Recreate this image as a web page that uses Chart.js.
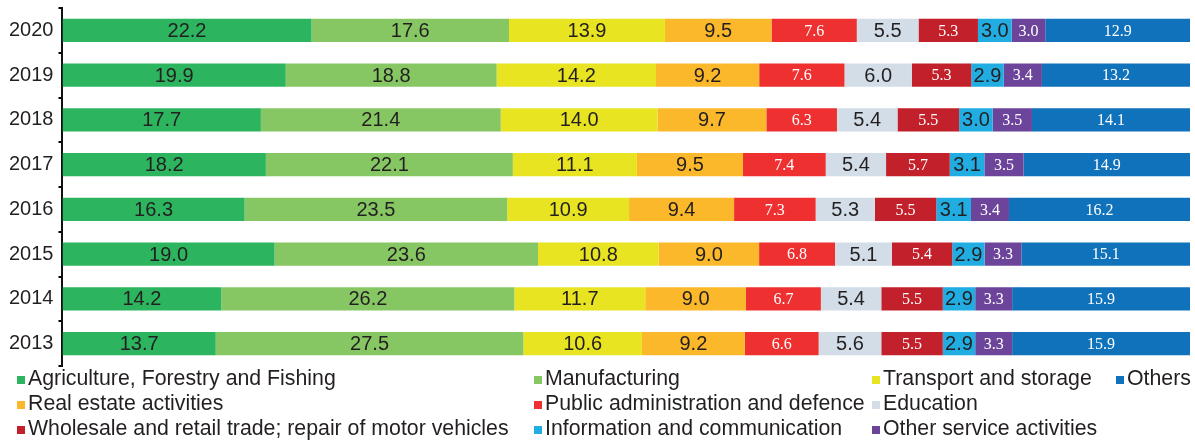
<!DOCTYPE html>
<html>
<head>
<meta charset="utf-8">
<script src="https://cdn.jsdelivr.net/npm/chart.js@4/dist/chart.umd.min.js"></script>
<style>
  body { margin: 0; background: #fff; }
  #wrap { position: relative; width: 1195px; height: 441px; overflow: hidden; }
  #chartBox { position: absolute; left: 0; top: -9px; width: 1195px; height: 392px; }
  #legend {
    position: absolute; left: 17px; top: 366px;
    display: grid; grid-template-rows: repeat(3, 25px); grid-auto-flow: column;
    grid-template-columns: 517px 338px 244px 80px;
    font-family: "Liberation Sans", Arial, sans-serif; font-size: 21.3px; color: #231f20;
  }
  #legend .item { display: flex; align-items: center; white-space: nowrap; }
  #legend .sw { width: 8px; height: 8px; margin-right: 3px; margin-top: 3px; }
</style>
</head>
<body>
<div id="wrap">
  <div id="chartBox"><canvas id="myChart"></canvas></div>
  <div id="legend"></div>
</div>
<script>
// years, top to bottom
const years = ['2020', '2019', '2018', '2017', '2016', '2015', '2014', '2013'];

const sectors = [
  'Agriculture, Forestry and Fishing',
  'Manufacturing',
  'Transport and storage',
  'Real estate activities',
  'Public administration and defence',
  'Education',
  'Wholesale and retail trade; repair of motor vehicles',
  'Information and communication',
  'Other service activities',
  'Others'
];

const colors = ['#2cb45f', '#86c764', '#e8e421', '#fbb82a', '#ee3030', '#d2dde8', '#c2202a', '#22ade2', '#6c459b', '#1072bb'];

// shares (%) per year, same order as years
const agriculture = [22.2, 19.9, 17.7, 18.2, 16.3, 19.0, 14.2, 13.7];
const manufacturing = [17.6, 18.8, 21.4, 22.1, 23.5, 23.6, 26.2, 27.5];
const transport = [13.9, 14.2, 14.0, 11.1, 10.9, 10.8, 11.7, 10.6];
const realEstate = [9.5, 9.2, 9.7, 9.5, 9.4, 9.0, 9.0, 9.2];
const publicAdmin = [7.6, 7.6, 6.3, 7.4, 7.3, 6.8, 6.7, 6.6];
const education = [5.5, 6.0, 5.4, 5.4, 5.3, 5.1, 5.4, 5.6];
const wholesale = [5.3, 5.3, 5.5, 5.7, 5.5, 5.4, 5.5, 5.5];
const infoComm = [3.0, 2.9, 3.0, 3.1, 3.1, 2.9, 2.9, 2.9];
const otherService = [3.0, 3.4, 3.5, 3.5, 3.4, 3.3, 3.3, 3.3];
const others = [12.9, 13.2, 14.1, 14.9, 16.2, 15.1, 15.9, 15.9];

const series = [agriculture, manufacturing, transport, realEstate, publicAdmin, education, wholesale, infoComm, otherService, others];

// label styles: dark sans or white serif
const sansLabel = { color: '#231f20', font: '20px "Liberation Sans", Arial, sans-serif' };
const serifLabel = { color: '#fff', font: '16px "Liberation Serif", Georgia, serif' };
const labelStyles = [sansLabel, sansLabel, sansLabel, sansLabel, serifLabel, sansLabel, serifLabel,
  sansLabel, serifLabel, serifLabel];

// legend layout: column by column, 3 rows
const legendOrder = [0, 3, 6, 1, 4, 7, 2, 5, 8, 9];

// each bar row is drawn to fill 100%
const rowSums = years.map((y, j) => series.reduce((s, arr) => s + arr[j], 0));

const datasets = series.map((arr, i) => ({
  label: sectors[i],
  data: arr.map((v, j) => v / rowSums[j] * 100),
  raw: arr,
  backgroundColor: colors[i],
  borderWidth: 0,
  barPercentage: 0.52,
  categoryPercentage: 1.0
}));

const barLabels = {
  id: 'barLabels',
  afterDatasetsDraw(chart) {
    const ctx = chart.ctx;
    ctx.save();
    ctx.textAlign = 'center';
    ctx.textBaseline = 'middle';
    chart.data.datasets.forEach((ds, i) => {
      const meta = chart.getDatasetMeta(i);
      ctx.fillStyle = labelStyles[i].color;
      ctx.font = labelStyles[i].font;
      meta.data.forEach((bar, j) => {
        const cx = (bar.x + bar.base) / 2;
        ctx.fillText(ds.raw[j].toFixed(1), cx, bar.y + 1);
      });
    });
    ctx.restore();
  }
};

const ctx = document.getElementById('myChart').getContext('2d');
const myChart = new Chart(ctx, {
  type: 'bar',
  data: { labels: years, datasets: datasets },
  options: {
    indexAxis: 'y',
    responsive: true,
    maintainAspectRatio: false,
    animation: false,
    layout: { padding: { top: 0, bottom: 0, left: 4, right: 5 } },
    plugins: { legend: { display: false }, tooltip: { enabled: false } },
    scales: {
      x: { stacked: true, min: 0, max: 100, display: false },
      y: {
        stacked: true,
        grid: { drawOnChartArea: false, drawTicks: true, tickLength: 4, color: '#000', lineWidth: 2 },
        border: { color: '#111', width: 2 },
        ticks: { color: '#231f20', font: { family: '"Liberation Sans", Arial, sans-serif', size: 20 }, padding: 5 }
      }
    }
  },
  plugins: [barLabels]
});

// legend built from the same arrays
const legendEl = document.getElementById('legend');
legendOrder.forEach(i => {
  const item = document.createElement('div');
  item.className = 'item';
  const sw = document.createElement('span');
  sw.className = 'sw';
  sw.style.background = colors[i];
  const txt = document.createElement('span');
  txt.textContent = sectors[i];
  item.appendChild(sw);
  item.appendChild(txt);
  legendEl.appendChild(item);
});
</script>
</body>
</html>
